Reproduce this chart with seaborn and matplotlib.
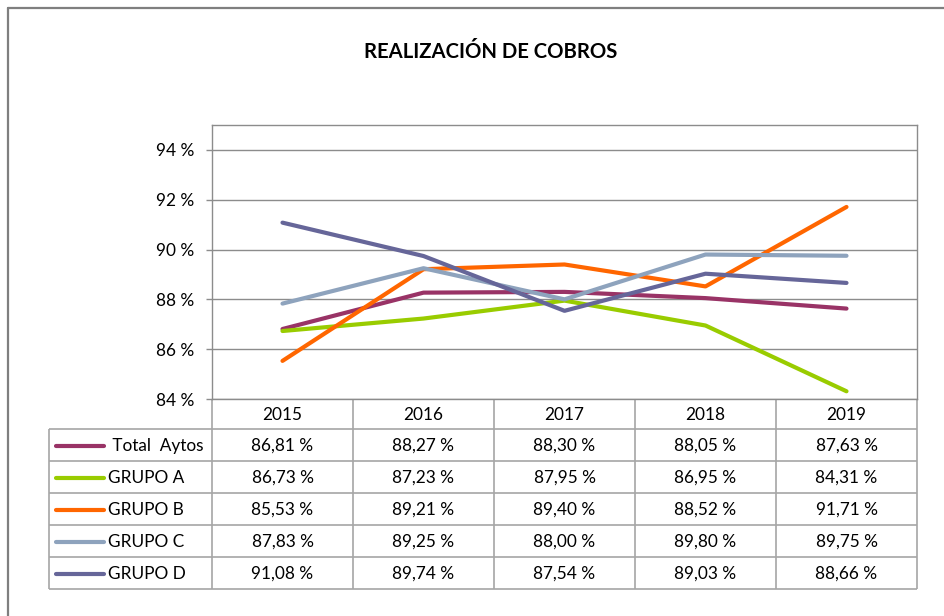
import matplotlib
matplotlib.use("Agg")
import matplotlib.pyplot as plt
import seaborn as sns
import pandas as pd
from matplotlib.ticker import FuncFormatter, FixedLocator

years = ["2015", "2016", "2017", "2018", "2019"]
series_names = ["Total  Aytos", "GRUPO A", "GRUPO B", "GRUPO C", "GRUPO D"]
total_aytos = [86.81, 88.27, 88.30, 88.05, 87.63]
grupo_a = [86.73, 87.23, 87.95, 86.95, 84.31]
grupo_b = [85.53, 89.21, 89.40, 88.52, 91.71]
grupo_c = [87.83, 89.25, 88.00, 89.80, 89.75]
grupo_d = [91.08, 89.74, 87.54, 89.03, 88.66]
y_ticks = [84, 86, 88, 90, 92, 94]
title = "REALIZACIÓN DE COBROS"

colors = ["#993366", "#99CC00", "#FF6600", "#8EA3BD", "#666699"]
all_values = [total_aytos, grupo_a, grupo_b, grupo_c, grupo_d]

rows = []
for name, vals in zip(series_names, all_values):
    for i, (yr, v) in enumerate(zip(years, vals)):
        rows.append({"serie": name, "pos": i, "year": yr, "value": v})
df = pd.DataFrame(rows)

sns.set_style("white")
plt.rcParams["font.family"] = ["Lato", "DejaVu Sans"]

W, H = 945, 616
fig = plt.figure(figsize=(W / 100, H / 100), dpi=100)

def fx(x):
    return x / W

def fy(y):
    return 1 - y / H

FS = 12.4
L, R, T, B = 212, 917, 125, 399
ax = fig.add_axes([fx(L), fy(B), fx(R - L), (B - T) / H])
grid_col = "#8C8C8C"

sns.lineplot(data=df, x="pos", y="value", hue="serie", hue_order=series_names,
             palette=dict(zip(series_names, colors)), linewidth=3.0, sort=False,
             legend=False, ax=ax, zorder=3)
for c_line in ax.lines:
    c_line.set_solid_capstyle("round")

ax.set_xlim(-0.5, len(years) - 0.5)
ax.set_ylim(84, 95)
ax.yaxis.set_major_locator(FixedLocator(y_ticks))
ax.yaxis.set_major_formatter(FuncFormatter(lambda v, p: f"{v:.0f} %"))
ax.set_xticks([])
ax.set_xlabel("")
ax.set_ylabel("")
ax.grid(axis="y", color=grid_col, linewidth=1.0)
ax.grid(axis="x", visible=False)
ax.tick_params(axis="y", which="major", left=True, length=4.5, width=1.0,
               color=grid_col, pad=8, labelsize=FS, labelcolor="black")
for s in ax.spines.values():
    s.set_color(grid_col)
    s.set_linewidth(1.0)
    s.set_visible(True)

fig.text(fx(491), fy(52), title, ha="center", va="center",
         fontsize=14.6, fontweight="bold", color="black")

# Data table
tax = fig.add_axes([0, 0, 1, 1], zorder=-1)
tax.set_xlim(0, W)
tax.set_ylim(H, 0)
tax.axis("off")

tcol = "#A6A6A6"
col_edges = [L + k * (R - L) / len(years) for k in range(len(years) + 1)]
row_edges = [399, 429, 461, 493, 525, 557, 589]
tab_left = 49

tax.hlines(row_edges[1:], tab_left, R, color=tcol, linewidth=1.2)
tax.hlines(row_edges[0], L, R, color=tcol, linewidth=1.2)
tax.vlines(col_edges, row_edges[0], row_edges[-1], color=tcol, linewidth=1.2)
tax.vlines([tab_left], row_edges[1], row_edges[-1], color=tcol, linewidth=1.2)

for j, yr in enumerate(years):
    cx = (col_edges[j] + col_edges[j + 1]) / 2
    tax.text(cx, (row_edges[0] + row_edges[1]) / 2 + 1, yr, ha="center", va="center",
             fontsize=FS, color="black")

for i, (name, vals, c) in enumerate(zip(series_names, all_values, colors)):
    cy = (row_edges[i + 1] + row_edges[i + 2]) / 2 + 1
    tax.plot([56, 104], [cy, cy], color=c, linewidth=3.0, solid_capstyle="round")
    label = (" " + name) if name.startswith("Total") else name
    tax.text(108, cy, label, ha="left", va="center", fontsize=FS, color="black")
    for j, v in enumerate(vals):
        cx = (col_edges[j] + col_edges[j + 1]) / 2
        tax.text(cx, cy, f"{v:.2f}".replace(".", ",") + " %", ha="center",
                 va="center", fontsize=FS, color="black")

# outer chart border
tax.plot([7.5, 7.5], [H + 2, 8], color="#7F7F7F", linewidth=1.6, clip_on=False)
tax.plot([7.5, W + 2], [8, 8], color="#7F7F7F", linewidth=1.6, clip_on=False)

fig.savefig("out.png", dpi=100, facecolor="white")
